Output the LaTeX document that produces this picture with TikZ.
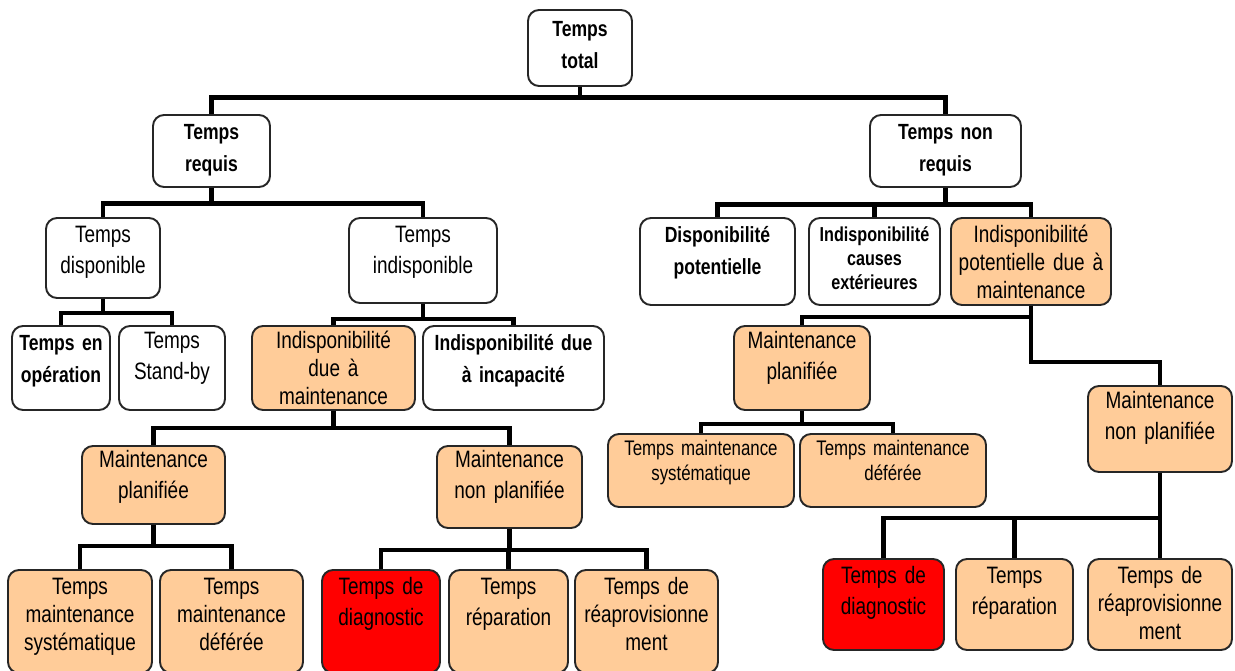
\documentclass[tikz,border=0pt]{standalone}
\usepackage{fontspec}
\setmainfont{Liberation Sans}[FakeStretch=0.8]
\usepackage{tikz}
\usetikzlibrary{positioning}

\definecolor{peach}{HTML}{FFCC99}
\newcommand\boxfont{\fontsize{13.5}{17.5}\selectfont}
\newcommand\boxtight{\fontsize{13.5}{15.8}\selectfont}
\newcommand\boxbold{\fontsize{12.5}{18}\selectfont\bfseries}
\newcommand\boxboldsmall{\fontsize{11.5}{13.4}\selectfont\bfseries}
\newcommand\boxsmall{\fontsize{12}{14}\selectfont}

\begin{document}
\begin{tikzpicture}[
                x=0.02cm, y=-0.02cm,
                box/.style={draw=black!85,line width=1.1pt,rounded corners=0.22cm,fill=white,inner sep=0pt,align=center,font=\boxfont},
                hd/.style n args={3}{text width=#1*0.02cm,text height=#2*0.02cm,text depth=#3*0.02cm},
                maint/.style={box,fill=peach},
                alarm/.style={box,fill=red},
                heavy/.style={font=\boxbold},
                link/.style={line width=2.8pt,line join=miter}
            ]
                \useasboundingbox (0,0) rectangle (1235,671);

                \node[box,heavy,hd={104}{27}{49}] (total) at (580,48) {Temps\\total};

                % temps requis
                \node[box,heavy,hd={117}{25}{47}] (requis)  at (211.5,151) {Temps\\requis};
                \node[box,hd={114}{25}{55}]       (dispo)   at (103,258)   {Temps\\disponible};
                \node[box,hd={148}{25}{60}]       (indispo) at (423,260.5) {Temps\\indisponible};
                \node[box,heavy,hd={98}{25}{59}]  (oper)    at (61,368)    {Temps en\\opération};
                \node[box,hd={106}{23}{61}]       (standby) at (172,368)   {Temps\\Stand-by};
                \node[maint,font=\boxtight,hd={163}{23}{61}] (idm) at (333.5,368) {Indisponibilité\\due à\\maintenance};
                \node[box,heavy,hd={181}{25}{59}] (incap)   at (513.5,368) {Indisponibilité due\\à incapacité};
                \node[maint,hd={143}{22}{56}]     (mp)      at (153.5,485) {Maintenance\\planifiée};
                \node[maint,hd={145}{22}{60}]     (mnp)     at (509.5,487) {Maintenance\\non planifiée};
                \node[maint,font=\boxtight,hd={144}{25}{78}] (syst)  at (80,621.5)    {Temps\\maintenance\\systématique};
                \node[maint,font=\boxtight,hd={143}{25}{78}] (defer) at (231.5,621.5) {Temps\\maintenance\\déférée};
                \node[alarm,hd={118}{25}{78}]     (diag)    at (381,621.5)   {Temps de\\diagnostic};
                \node[maint,hd={119}{25}{78}]     (rep)     at (508.5,621.5) {Temps\\réparation};
                \node[maint,font=\boxtight,hd={143}{25}{78}] (reap)  at (646.5,621.5) {Temps de\\réaprovisionne\\ment};

                % temps non requis
                \node[box,heavy,hd={151}{25}{47}] (nonrequis) at (945.5,151) {Temps non\\requis};
                \node[box,heavy,hd={155}{25}{62}] (potdispo)  at (717.5,261.5) {Disponibilité\\potentielle};
                \node[box,font=\boxboldsmall,hd={131}{24}{63}] (causes) at (874.5,261.5) {Indisponibilité\\causes\\extérieures};
                \node[maint,font=\boxtight,hd={160}{25}{62}] (ipm) at (1031,261.5) {Indisponibilité\\potentielle due à\\maintenance};
                \node[maint,hd={136}{23}{61}]     (mp2)    at (802,368)    {Maintenance\\planifiée};
                \node[maint,hd={144}{23}{63}]     (mnp2)   at (1160,429)   {Maintenance\\non planifiée};
                \node[maint,font=\boxsmall,hd={186}{22}{51}] (syst2)  at (701,470.5) {Temps maintenance\\systématique};
                \node[maint,font=\boxsmall,hd={186}{22}{51}] (defer2) at (893,470.5) {Temps maintenance\\déférée};
                \node[alarm,hd={121}{25}{66}]     (diag2)  at (883.5,604.5)  {Temps de\\diagnostic};
                \node[maint,hd={117}{25}{66}]     (rep2)   at (1014.5,604.5) {Temps\\réparation};
                \node[maint,font=\boxtight,hd={144}{25}{66}] (reap2) at (1160,604.5) {Temps de\\réaprovisionne\\ment};

                \draw[link] (total.south) -- ++(0,11) -| (requis.north);
                \draw[link] (total.south) -- ++(0,11) -| (nonrequis.north);

                \draw[link] (requis.south) -- ++(0,16) -| (dispo.north);
                \draw[link] (requis.south) -- ++(0,16) -| (indispo.north);
                \draw[link] (dispo.south) -- ++(0,14) -| (oper.north);
                \draw[link] (dispo.south) -- ++(0,14) -| (standby.north);
                \draw[link] (indispo.south) -- ++(0,15) -| (idm.north);
                \draw[link] (indispo.south) -- ++(0,15) -| (incap.north);
                \draw[link] (idm.south) -- ++(0,17) -| (mp.north);
                \draw[link] (idm.south) -- ++(0,17) -| (mnp.north);
                \draw[link] (mp.south) -- ++(0,21) -| (syst.north);
                \draw[link] (mp.south) -- ++(0,21) -| (defer.north);
                \draw[link] (mnp.south) -- ++(0,21) -| (diag.north);
                \draw[link] (mnp.south) -- ++(0,21) -| (rep.north);
                \draw[link] (mnp.south) -- ++(0,21) -| (reap.north);

                \draw[link] (nonrequis.south) -- ++(0,17) -| (potdispo.north);
                \draw[link] (nonrequis.south) -- ++(0,17) -| (causes.north);
                \draw[link] (nonrequis.south) -- ++(0,17) -| (ipm.north);
                \draw[link] (ipm.south) -- ++(0,11) -| (mp2.north);
                \draw[link] (ipm.south) -- ++(0,56) -| (mnp2.north);
                \draw[link] (mp2.south) -- ++(0,13) -| (syst2.north);
                \draw[link] (mp2.south) -- ++(0,13) -| (defer2.north);
                \draw[link] (mnp2.south) -- ++(0,45) -| (diag2.north);
                \draw[link] (mnp2.south) -- ++(0,45) -| (rep2.north);
                \draw[link] (mnp2.south) -- ++(0,45) -| (reap2.north);
            \end{tikzpicture}
\end{document}
